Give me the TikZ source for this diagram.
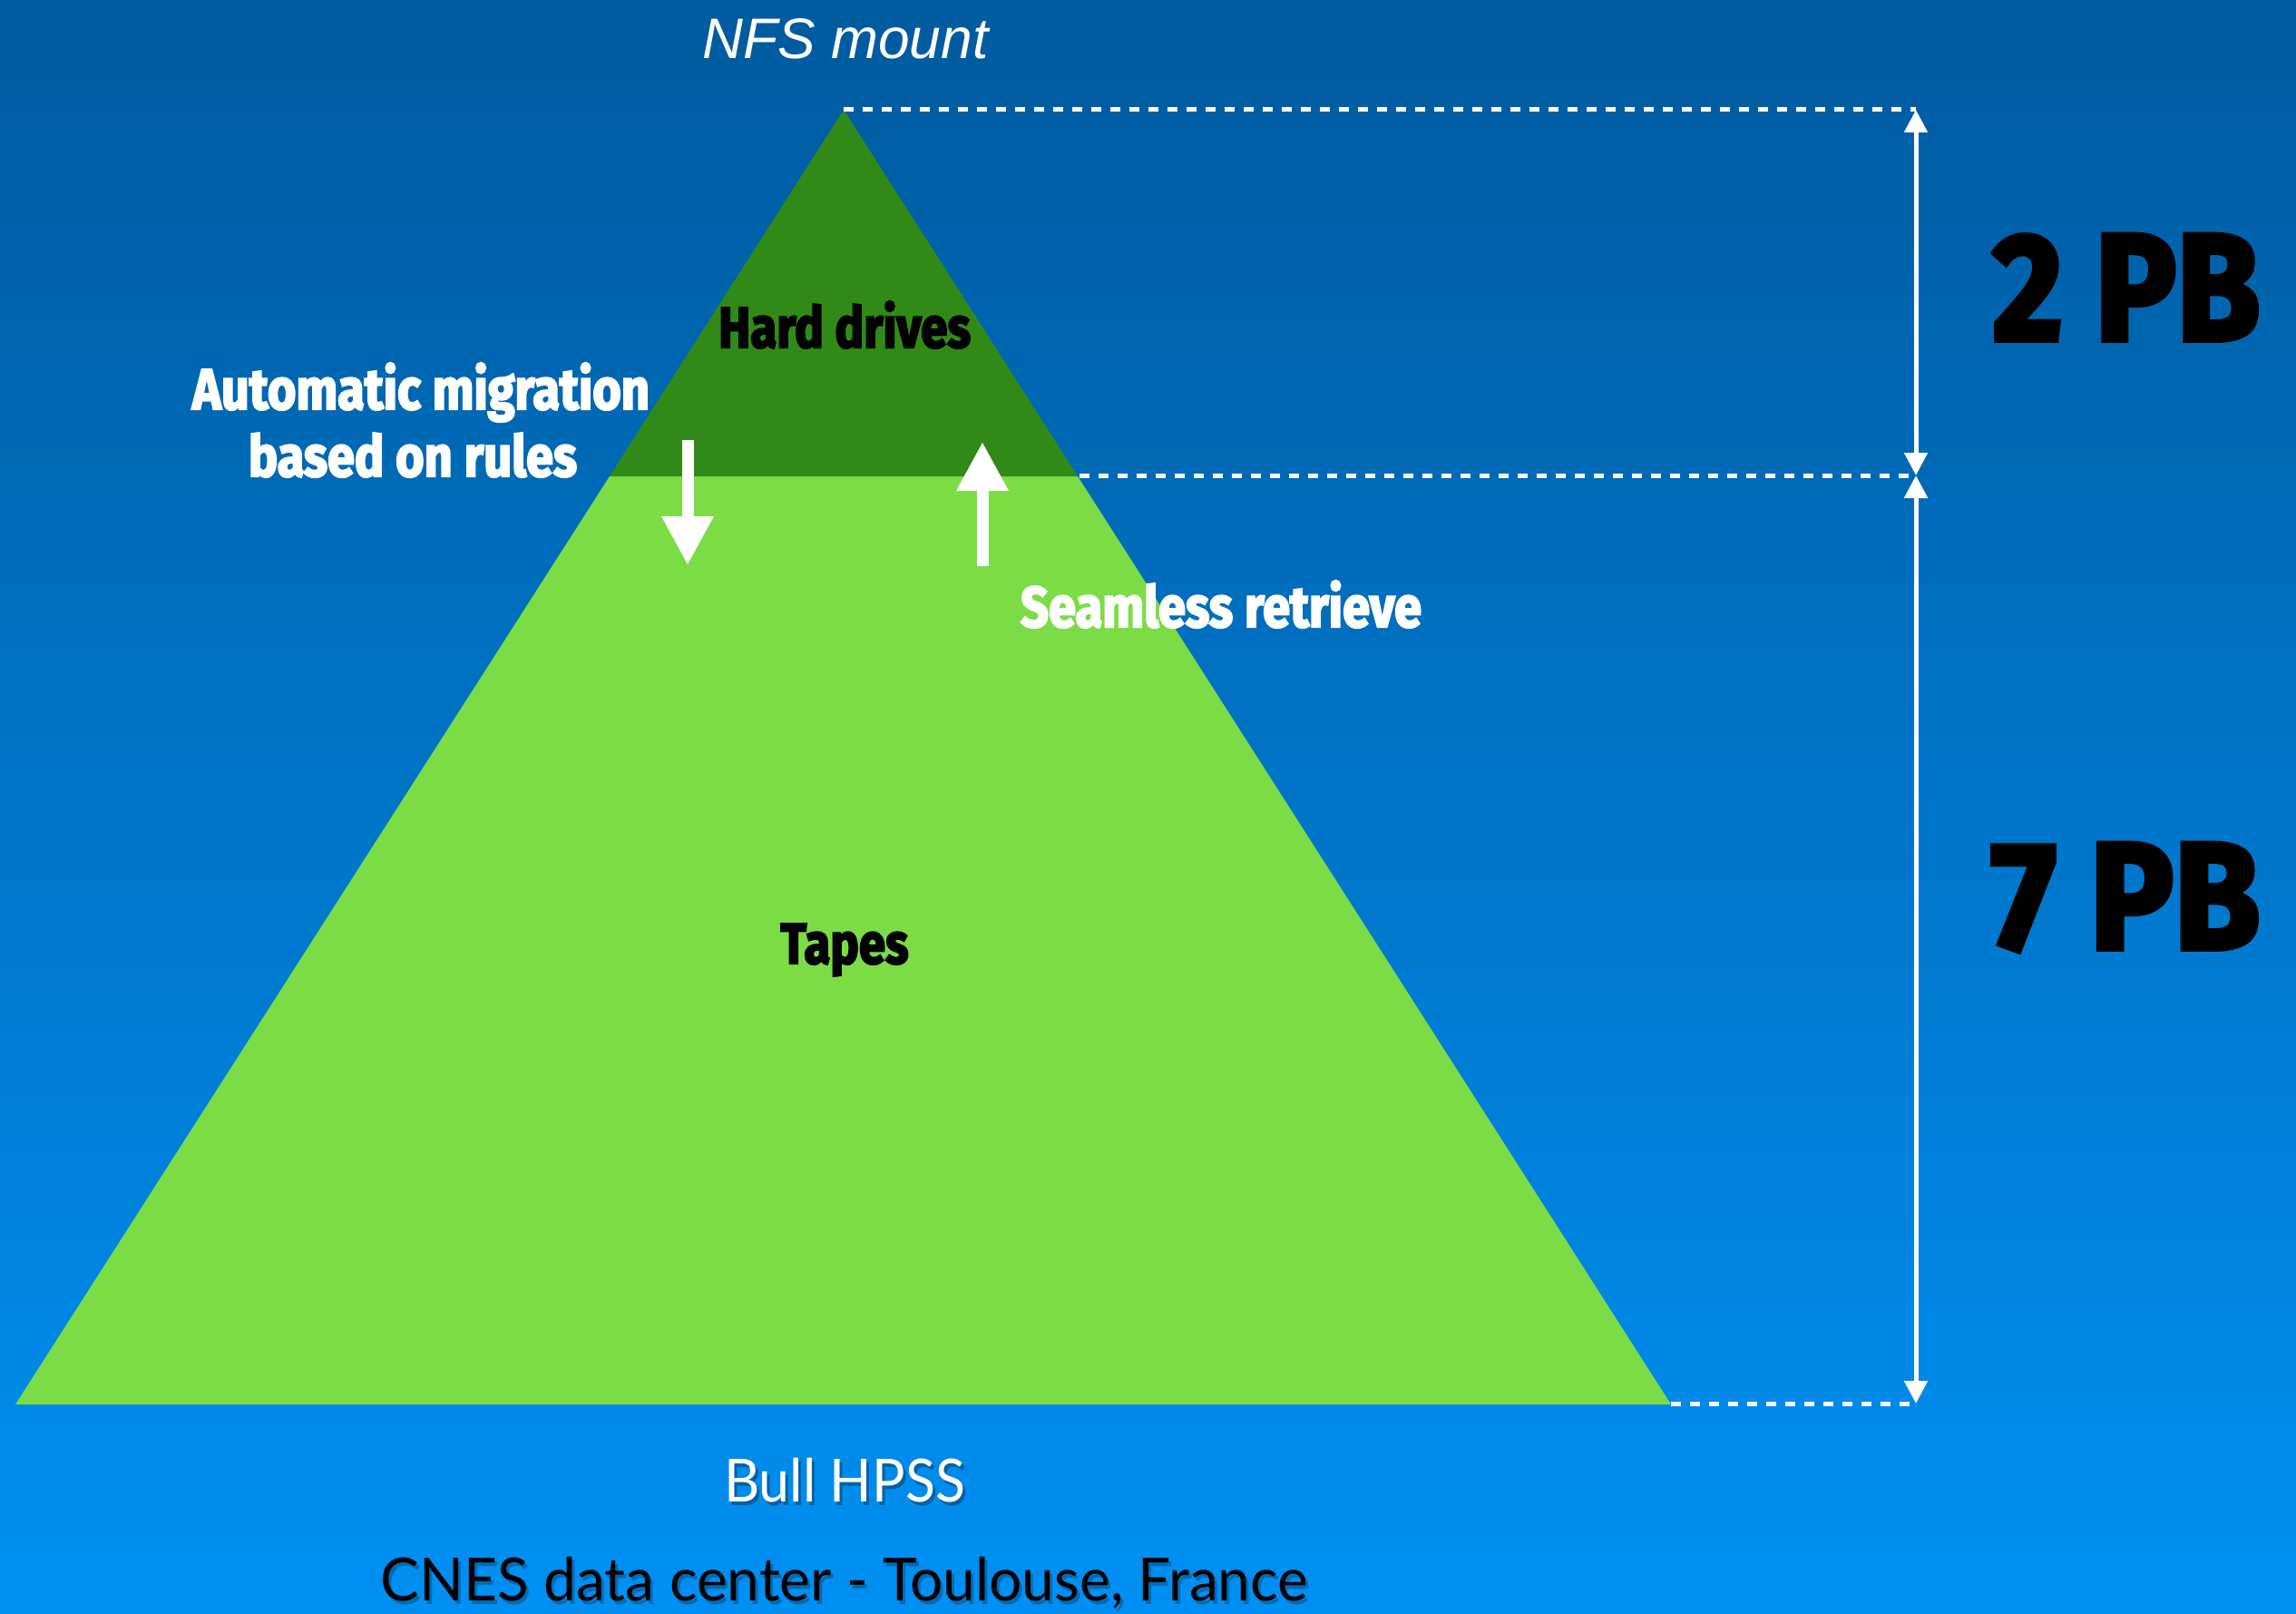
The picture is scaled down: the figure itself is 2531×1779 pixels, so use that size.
\documentclass[tikz,border=0pt]{standalone}
\usepackage{fontspec}
\usepackage{graphicx}
\usetikzlibrary{arrows.meta}

\newfontfamily\heavyfont[BoldFeatures={FakeBold=3.5}]{Fira Sans}
\newfontfamily\nfsfont{Liberation Sans}
\newfontfamily\gillfont{Lato}

% scale a piece of text horizontally to a given width, keeping its height
\newcommand\fitwidth[2]{\resizebox{#1}{\height}{#2}}

\definecolor{bgtop}{RGB}{0,90,158}
\definecolor{bgbot}{RGB}{0,144,243}
\definecolor{diskgreen}{RGB}{49,138,23}
\definecolor{tapegreen}{RGB}{124,220,70}

\tikzset{
  lbl/.style={inner sep=0pt, anchor=base},
  tierlbl/.style={lbl, black, font=\heavyfont\bfseries\fontsize{63}{63}\selectfont},
  notelbl/.style={lbl, white, font=\heavyfont\bfseries\fontsize{63}{63}\selectfont},
  sizelbl/.style={lbl, black, font=\heavyfont\bfseries\fontsize{168}{168}\selectfont},
  footlbl/.style={lbl, font=\gillfont\fontsize{65.6}{65.6}\selectfont},
  guide/.style={white, line width=5pt, dash pattern=on 11pt off 10pt},
  dimline/.style={white, line width=5pt,
    {Triangle[length=25pt,width=25pt]}-{Triangle[length=25pt,width=25pt]}},
  flow/.style={white, line width=13pt, -{Triangle[length=54pt,width=54pt]}},
}

\begin{document}
\begin{tikzpicture}[x=1pt,y=-1pt]
  \useasboundingbox (0,0) rectangle (2531,1779);
  \shade[top color=bgtop, bottom color=bgbot] (0,0) rectangle (2531,1779);

  % pyramid corners
  \coordinate (apex) at (930,121);
  \coordinate (l525) at (672,525);
  \coordinate (r525) at (1188,525);
  \coordinate (bL) at (17,1548);
  \coordinate (bR) at (1842,1548);

  % tiers
  \fill[tapegreen] (l525) -- (r525) -- (bR) -- (bL) -- cycle;
  \fill[diskgreen] (apex) -- (r525) -- (l525) -- cycle;

  % dimension marks
  \coordinate (dtop) at (2112,121);
  \coordinate (dmid) at (2112,524);
  \coordinate (dbot) at (2112,1547);
  \coordinate (gmid) at (1190,524);
  \coordinate (gbot) at (1842,1547);
  \draw[guide] (apex) -- (dtop);
  \draw[guide] (gmid) -- (dmid);
  \draw[guide] (gbot) -- (dbot);
  \draw[dimline] (dtop) -- (dmid);
  \draw[dimline] (dmid) -- (dbot);

  % migration arrows
  \coordinate (migS) at (758,485);
  \coordinate (migE) at (758,623);
  \coordinate (retS) at (1083,624);
  \coordinate (retE) at (1083,487);
  \draw[flow] (migS) -- (migE);
  \draw[flow] (retS) -- (retE);

  % labels
  \node[lbl, white, font=\nfsfont\itshape\fontsize{63}{63}\selectfont]
    (nfs) at (932,65) {\fitwidth{315pt}{NFS mount}};
  \node[tierlbl] (hd) at (931,383) {\fitwidth{278pt}{Hard drives}};
  \node[tierlbl] (tapes) at (931,1062) {\fitwidth{141pt}{Tapes}};
  \node[notelbl] (auto1) at (464,451) {\fitwidth{504pt}{Automatic migration}};
  \node[notelbl] (auto2) at (455,525) {\fitwidth{362pt}{based on rules}};
  \node[notelbl] (seam) at (1346,691) {\fitwidth{442pt}{Seamless retrieve}};
  \node[sizelbl] (two) at (2344,375) {\fitwidth{295pt}{2 PB}};
  \node[sizelbl] (seven) at (2343,1046) {\fitwidth{297pt}{7 PB}};

  % footer with soft drop shadows
  \node[footlbl, black, opacity=0.3] (hpssS) at (934,1659) {\fitwidth{266pt}{Bull HPSS}};
  \node[footlbl, white] (hpss) at (931,1655) {\fitwidth{266pt}{Bull HPSS}};
  \node[footlbl, black, opacity=0.25] (cnesS) at (934,1768) {\fitwidth{1022pt}{CNES data center - Toulouse, France}};
  \node[footlbl, black] (cnes) at (931,1764) {\fitwidth{1022pt}{CNES data center - Toulouse, France}};
\end{tikzpicture}
\end{document}
